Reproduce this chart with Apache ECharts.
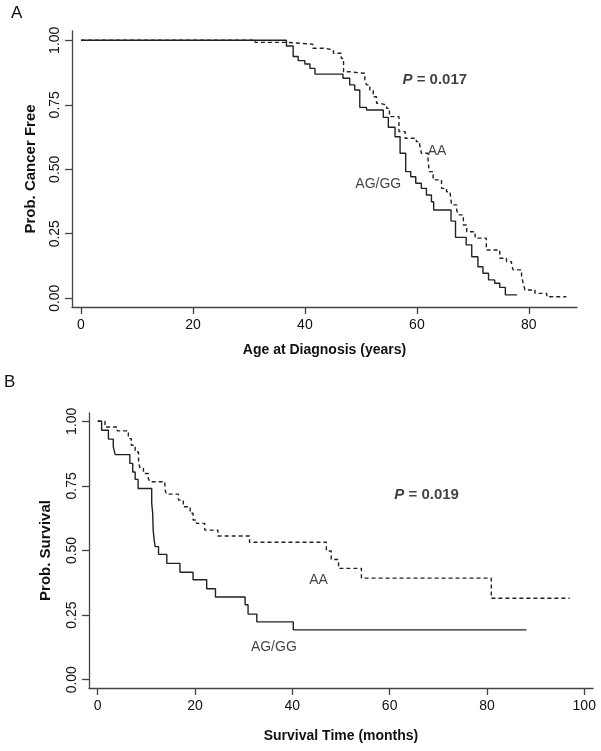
<!DOCTYPE html>
<html><head><meta charset="utf-8">
<script src="https://cdn.jsdelivr.net/npm/echarts@6/dist/echarts.min.js"></script>
<style>html,body{margin:0;padding:0;background:#fff}#c{width:601px;height:751px}</style>
</head><body><div id="c"></div>
<script>
// Panel A: age at diagnosis (years) vs probability cancer free
const agAgeA = [[0,1],[36.7,0.978],[37.9,0.937],[38.8,0.921],[40.0,0.908],[40.9,0.891],[41.8,0.869],[46.8,0.853],[48.0,0.827],[48.9,0.807],[49.8,0.740],[51.0,0.730],[54.0,0.701],[54.9,0.663],[56.1,0.626],[57.0,0.562],[58.0,0.491],[58.9,0.471],[59.8,0.446],[60.8,0.426],[61.7,0.400],[62.6,0.374],[63.0,0.342],[66.1,0.299],[66.9,0.236],[68.8,0.207],[69.8,0.161],[70.9,0.122],[71.8,0.097],[72.8,0.071],[73.9,0.058],[74.8,0.042],[75.8,0.013],[77.9,0.013]];
const aaAgeA = [[0,1],[31.1,0.992],[36.7,0.985],[41.4,0.969],[43.6,0.962],[45.1,0.950],[46.5,0.930],[46.9,0.878],[48.0,0.875],[49.2,0.872],[50.7,0.846],[51.0,0.827],[51.6,0.807],[52.2,0.781],[52.8,0.756],[53.4,0.749],[54.6,0.736],[55.1,0.704],[56.8,0.646],[57.9,0.620],[59.9,0.607],[60.5,0.594],[60.8,0.562],[62.0,0.536],[62.2,0.491],[62.9,0.459],[64.4,0.426],[65.3,0.413],[65.9,0.407],[66.2,0.362],[67.1,0.342],[67.4,0.323],[68.3,0.284],[68.9,0.258],[70.4,0.233],[72.4,0.187],[74.8,0.155],[76.0,0.142],[76.9,0.129],[77.2,0.110],[78.7,0.084],[79.0,0.058],[79.3,0.032],[81.1,0.019],[83.2,0.006],[86.7,0.006]];
// Panel B: survival time (months) vs probability survival
const agSurvB = [[0,1],[0.8,0.965],[2.2,0.931],[3.2,0.901],[3.6,0.871],[6.6,0.837],[7.2,0.804],[7.7,0.775],[8.3,0.740],[11.1,0.682],[11.3,0.644],[11.4,0.579],[11.6,0.541],[11.8,0.515],[12.5,0.485],[14.2,0.450],[16.9,0.416],[19.6,0.387],[22.4,0.352],[24.2,0.320],[30.3,0.290],[30.9,0.254],[32.7,0.224],[40.2,0.193],[88.1,0.193]];
const aaSurvB = [[0,1],[1.5,0.978],[4.0,0.963],[6.3,0.933],[6.9,0.907],[7.7,0.881],[8.4,0.843],[8.7,0.817],[9.4,0.798],[10.4,0.779],[10.7,0.766],[13.8,0.740],[14.1,0.718],[16.6,0.695],[17.6,0.669],[19.0,0.644],[19.6,0.618],[20.3,0.605],[22.0,0.579],[24.7,0.556],[31.2,0.532],[47.0,0.498],[48.0,0.465],[49.5,0.431],[54.2,0.393],[80.9,0.315],[97.0,0.315]];
const xTicksA = [0,20,40,60,80];
const xTicksB = [0,20,40,60,80,100];
const yTicks = [0,0.25,0.5,0.75,1];
const annotA = [{x:63.2,y:0.846,t:'P',v:' = 0.017'},{x:63.6,y:0.571,t:'AA'},{x:53.1,y:0.443,t:'AG/GG'}];
const annotB = [{x:67.6,y:0.714,t:'P',v:' = 0.019'},{x:45.4,y:0.386,t:'AA'},{x:36.2,y:0.127,t:'AG/GG'}];

const FONT = '"Liberation Sans", Arial, sans-serif';
const AX = '#444';
function xAxis(gi, min, max, ticks, name, gap) {
  return {type:'value', gridIndex:gi, min:min, max:max, splitLine:{show:false},
    axisLine:{show:true, onZero:false, lineStyle:{color:AX,width:1.3}},
    axisTick:{show:true, customValues:ticks, length:7, lineStyle:{color:AX,width:1.3}},
    axisLabel:{customValues:ticks, margin:11, color:'#111', fontSize:14, fontFamily:FONT},
    name:name, nameLocation:'middle', nameGap:gap,
    nameTextStyle:{color:'#111', fontSize:14, fontWeight:'bold', fontFamily:FONT}};
}
function yAxis(gi, min, max, name, gap) {
  return {type:'value', gridIndex:gi, min:min, max:max, splitLine:{show:false},
    axisLine:{show:true, onZero:false, lineStyle:{color:AX,width:1.3}},
    axisTick:{show:true, customValues:yTicks, length:7, lineStyle:{color:AX,width:1.3}},
    axisLabel:{customValues:yTicks, rotate:90, margin:10, color:'#111', fontSize:14, fontFamily:FONT,
      formatter:v=>v.toFixed(2)},
    name:name, nameLocation:'middle', nameGap:gap,
    nameTextStyle:{color:'#111', fontSize:15, fontWeight:'bold', fontFamily:FONT}};
}
function km(gi, data, dashed) {
  return {type:'line', xAxisIndex:gi, yAxisIndex:gi, data:data, step:'end', symbol:'none', silent:true,
    lineStyle:{color:'#222', width:1.4, type: dashed ? [4,3] : 'solid'}};
}
function annot(gi, arr) {
  return {type:'scatter', xAxisIndex:gi, yAxisIndex:gi, symbolSize:0, silent:true,
    data:arr.map(a=>({value:[a.x,a.y], label:{show:true, position:'inside',
      formatter: a.v ? '{i|P}{b|'+a.v+'}' : a.t,
      rich: {i:{fontStyle:'italic', fontWeight:'bold', fontSize:15, fontFamily:FONT, color:'#111'},
             b:{fontWeight:'bold', fontSize:15, fontFamily:FONT, color:'#111'}},
      fontSize:14, fontFamily:FONT, color:'#111'}}))};
}
const chart = echarts.init(document.getElementById('c'), null, {renderer:'canvas'});
chart.setOption({
  animation:false,
  backgroundColor:'#fff',
  grid:[{left:72, top:31, width:505, height:276},{left:89, top:413, width:504, height:275}],
  xAxis:[xAxis(0,-1.6,88.6,xTicksA,'Age at Diagnosis (years)',36), xAxis(1,-1.79,101.8,xTicksB,'Survival Time (months)',41)],
  yAxis:[yAxis(0,-0.034,1.036,'Prob. Cancer Free',34), yAxis(1,-0.032,1.032,'Prob. Survival',36)],
  series:[km(0,agAgeA,false), km(0,aaAgeA,true), km(1,agSurvB,false), km(1,aaSurvB,true), annot(0,annotA), annot(1,annotB)],
  graphic:[
    {type:'text', left:11, top:5, style:{text:'A', fontSize:17, fontFamily:FONT, fill:'#111'}},
    {type:'text', left:4, top:374, style:{text:'B', fontSize:17, fontFamily:FONT, fill:'#111'}}
  ]
});
</script></body></html>
